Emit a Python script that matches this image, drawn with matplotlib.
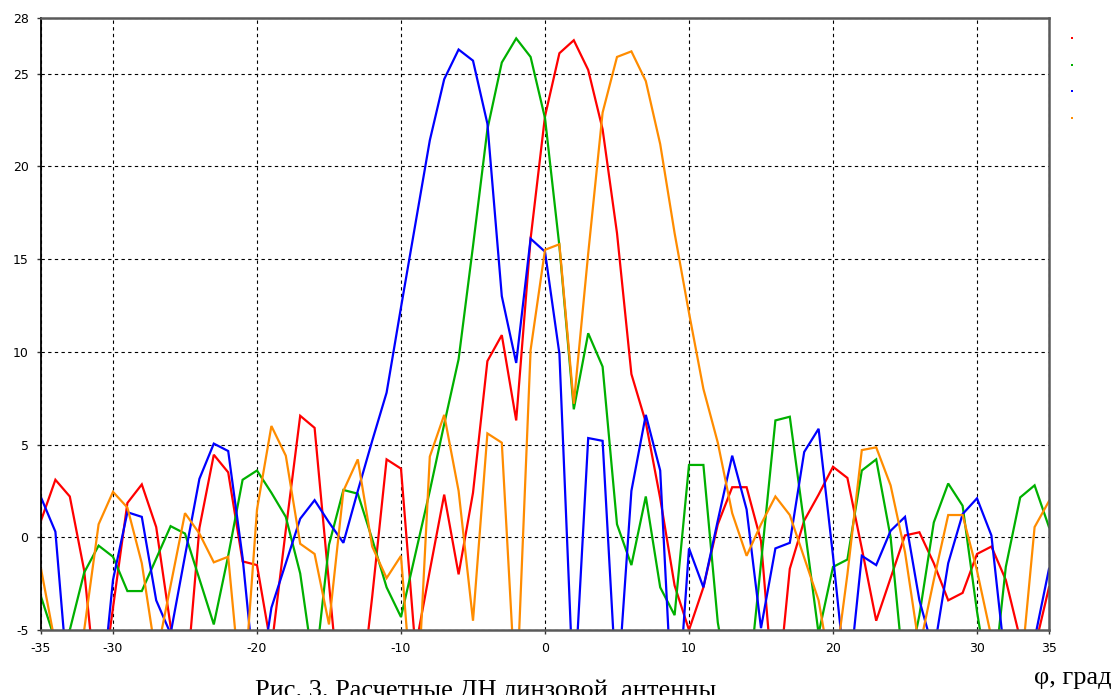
import matplotlib

matplotlib.use("Agg")
import matplotlib.pyplot as plt
from matplotlib.lines import Line2D
import numpy as np

# angle grid, degrees
PHI = np.arange(-35, 36)

# pattern values (dB), one per degree from -35 to 35
RED = [0.9, 3.1, 2.2, -1.8, -9.5, -3.8, 1.85, 2.85, 0.55, -4.8,
       -8.7, 0.5, 4.45, 3.5, -1.3, -1.5, -6.0, 0.4, 6.55, 5.9,
       -2.5, -10.8, -10.0, -3.2, 4.2, 3.7, -6.0, -1.8, 2.3, -2.0,
       2.4, 9.5, 10.9, 6.3, 16.1, 22.7, 26.1, 26.8, 25.2, 22.0,
       16.4, 8.8, 6.2, 2.1, -2.6, -5.0, -2.7, 0.7, 2.7, 2.7,
       -0.2, -9.6, -1.7, 0.9, 2.3, 3.8, 3.2, -0.6, -4.5, -2.2,
       0.1, 0.27, -1.4, -3.4, -3.0, -0.9, -0.5, -2.3, -5.5, -6.0,
       -2.7]
GREEN = [-3.2, -5.6, -5.0, -1.9, -0.45, -1.05, -2.9, -2.9, -1.15, 0.6,
         0.2, -2.25, -4.7, -1.0, 3.1, 3.6, 2.4, 1.1, -1.95, -7.4,
         -0.4, 2.55, 2.35, -0.1, -2.7, -4.3, -0.9, 2.5, 6.1, 9.6,
         15.7, 22.0, 25.6, 26.9, 25.9, 22.6, 15.7, 6.9, 11.0, 9.2,
         0.7, -1.5, 2.2, -2.7, -4.2, 3.9, 3.9, -4.6, -9.0, -9.0,
         -1.4, 6.3, 6.5, 0.7, -5.2, -1.6, -1.2, 3.6, 4.2, 0.0,
         -8.0, -4.2, 0.8, 2.9, 1.7, -4.0, -8.8, -1.6, 2.15, 2.8,
         0.55]
BLUE = [2.15, 0.3, -9.0, -10.0, -10.0, -2.3, 1.35, 1.1, -3.4, -5.2,
        -1.0, 3.15, 5.05, 4.65, -1.1, -8.9, -3.8, -1.4, 1.0, 2.0,
        0.8, -0.3, 2.5, 5.2, 7.8, 12.4, 16.9, 21.4, 24.7, 26.3,
        25.7, 22.3, 13.0, 9.4, 16.1, 15.4, 9.9, -8.9, 5.35, 5.2,
        -8.7, 2.5, 6.6, 3.6, -11.6, -0.6, -2.7, 0.9, 4.4, 1.5,
        -4.9, -0.6, -0.3, 4.6, 5.85, -1.0, -8.5, -1.0, -1.5, 0.35,
        1.1, -3.4, -6.2, -1.4, 1.25, 2.1, 0.1, -7.0, -9.0, -5.5,
        -1.7]
ORANGE = [-1.7, -5.8, -9.0, -5.0, 0.7, 2.45, 1.6, -1.4, -6.5, -2.6,
          1.3, 0.2, -1.35, -1.05, -9.3, 1.5, 6.0, 4.4, -0.35, -0.9,
          -4.7, 2.5, 4.2, -0.5, -2.2, -1.0, -11.0, 4.35, 6.6, 2.5,
          -4.5, 5.6, 5.1, -9.0, 10.1, 15.5, 15.8, 7.2, 15.3, 22.9,
          25.9, 26.2, 24.6, 21.2, 16.4, 12.1, 8.0, 5.1, 1.3, -1.0,
          0.7, 2.2, 1.2, -1.1, -3.4, -7.9, -2.0, 4.7, 4.85, 2.8,
          -0.8, -6.0, -2.3, 1.2, 1.2, -1.8, -5.4, -9.0, -7.7, 0.55,
          1.95]

SERIES = [RED, GREEN, BLUE, ORANGE]
COLORS = ["#ff0000", "#00b000", "#0000ff", "#ff8c00"]
XTICKS = [-35, -30, -20, -10, 0, 10, 20, 30, 35]
YTICKS = [-5, 0, 5, 10, 15, 20, 25, 28]

fig = plt.figure(figsize=(11.14, 6.95), dpi=100)
ax = fig.add_axes([41 / 1114, 1 - 630 / 695, 1008 / 1114, 612 / 695])

for vals, col in zip(SERIES, COLORS):
    ax.plot(PHI, vals, color=col, lw=1.6, solid_joinstyle="miter")

ax.set_xlim(-35, 35)
ax.set_ylim(-5, 28)
ax.set_xticks(XTICKS)
ax.set_yticks(YTICKS)
ax.set_xticklabels([str(t) for t in XTICKS])
ax.set_yticklabels([str(t) for t in YTICKS])
ax.tick_params(labelsize=9, length=3, width=1, color="#333", pad=6)
ax.grid(True, color="black", ls=(0, (3, 3)), lw=0.8)
ax.set_axisbelow(True)

for side in ["top", "right", "bottom"]:
    ax.spines[side].set_color("#5a5a5a")
    ax.spines[side].set_linewidth(1.8)
ax.spines["left"].set_color("black")
ax.spines["left"].set_linewidth(1.3)

# tiny legend dots at the right (the original shows no legend text)
dots = [Line2D([], [], ls="none", marker="s", ms=1.6, mew=0, color=c) for c in COLORS]
fig.legend(dots, [" "] * 4, loc="upper left", bbox_to_anchor=(1062 / 1114, 1 - 26 / 695),
           frameon=False, handlelength=0.6, handletextpad=0.2, fontsize=9,
           labelspacing=1.1, borderpad=0)

fig.text(1112 / 1114, 1 - 684 / 695, "φ, град", family="Liberation Serif",
         fontsize=19, ha="right", va="baseline")
fig.text(255 / 1114, 1 - 697 / 695, "Рис. 3. Расчетные ДН линзовой  антенны",
         family="Liberation Serif", fontsize=19, ha="left", va="baseline")

fig.savefig("out.png", dpi=100, facecolor="white")
